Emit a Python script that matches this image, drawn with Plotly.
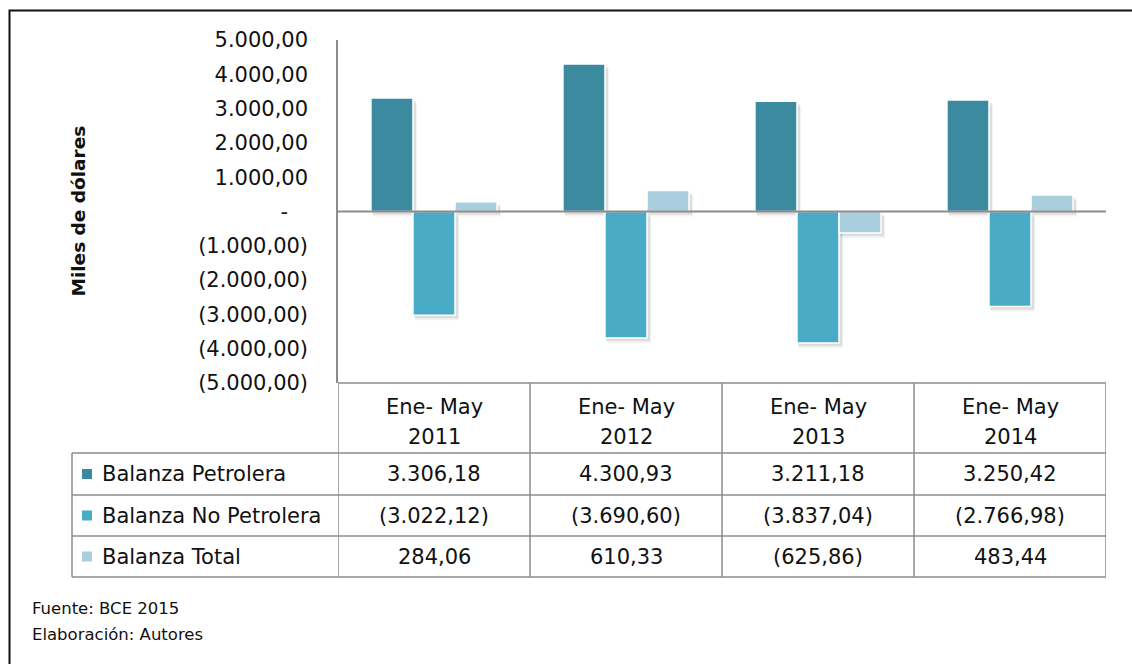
import plotly.graph_objects as go

# Balanza comercial del Ecuador, enero-mayo (miles de dólares)
periodo = "Ene- May"
anios = ["2011", "2012", "2013", "2014"]
series = ["Balanza Petrolera", "Balanza No Petrolera", "Balanza Total"]
petrolera = [3306.18, 4300.93, 3211.18, 3250.42]
no_petrolera = [-3022.12, -3690.60, -3837.04, -2766.98]
total = [284.06, 610.33, -625.86, 483.44]
colores = ["#3C8AA0", "#4AABC6", "#A9CEDD"]
ticks_y = [5000, 4000, 3000, 2000, 1000, 0, -1000, -2000, -3000, -4000, -5000]
fuente = ["Fuente: BCE 2015", "Elaboración: Autores"]

W, H = 1132, 664
FONT = "DejaVu Sans"
GRID = "#8c8c8c"
TXT = "#111111"
FS = 21

# Geometría del área de gráfico (px)
PX_L, PX_R, PX_T, PX_B = 338, 1106, 40, 383
Y_MIN, Y_MAX = -5000, 5000
BAR_W = 0.219          # ancho de cada barra en unidades de categoría
GROUP_W = 3 * BAR_W


def fmt(v):
    """Formato contable: miles con punto, decimales con coma, negativos entre paréntesis."""
    if v == 0:
        return "-\u00a0\u00a0\u00a0"
    s = f"{abs(v):,.2f}".replace(",", "X").replace(".", ",").replace("X", ".")
    return f"({s})" if v < 0 else s


def px_x(p):
    return p / W


def px_y(p):
    return 1 - p / H


x = list(range(len(anios)))
valores = [petrolera, no_petrolera, total]

# Conversión de desplazamientos en px a unidades de datos (para la sombra)
ux = (len(anios)) / (PX_R - PX_L)
uy = (Y_MAX - Y_MIN) / (PX_B - PX_T)

fig = go.Figure()

# Sombras suaves bajo las barras
for dx, dy, alpha in [(3, 5, 0.05), (2, 3, 0.09)]:
    for k, vals in enumerate(valores):
        fig.add_trace(go.Bar(
            x=x, y=vals, base=[-dy * uy] * len(vals),
            width=BAR_W + 2 * ux, offset=-GROUP_W / 2 + k * BAR_W + dx * ux - ux,
            marker=dict(color=f"rgba(0,0,0,{alpha})", line=dict(width=0)),
            showlegend=False, hoverinfo="skip",
        ))

for k, (nombre, vals, col) in enumerate(zip(series, valores, colores)):
    fig.add_trace(go.Bar(
        x=x, y=vals, name=nombre,
        width=BAR_W, offset=-GROUP_W / 2 + k * BAR_W,
        marker=dict(color=col, line=dict(color="white", width=1.5)),
        showlegend=False,
    ))

plot_x0, plot_x1 = px_x(PX_L), px_x(PX_R)
plot_y_top, plot_y_bot = px_y(PX_T), px_y(PX_B)

fig.update_layout(
    width=W, height=H,
    margin=dict(l=0, r=0, t=0, b=0, autoexpand=False),
    paper_bgcolor="white", plot_bgcolor="white",
    barmode="overlay",
    font=dict(family=FONT, color=TXT),
    xaxis=dict(domain=[plot_x0, plot_x1], range=[-0.5, 3.5], automargin=False,
               showticklabels=False, showgrid=False, zeroline=False, showline=False),
    yaxis=dict(domain=[plot_y_bot, plot_y_top], range=[Y_MIN, Y_MAX], automargin=False,
               tickvals=ticks_y, ticktext=[fmt(v) for v in ticks_y],
               tickfont=dict(size=FS, family=FONT, color=TXT),
               ticks="", ticklabelstandoff=24,
               showgrid=False, zeroline=False,
               showline=True, linecolor=GRID, linewidth=1.5),
)

shapes = []
annotations = []

# Línea de cero sobre las barras
shapes.append(dict(type="line", xref="x", yref="y", x0=-0.5, x1=3.5, y0=0, y1=0,
                   line=dict(color=GRID, width=2), layer="above"))

# Marco exterior
shapes.append(dict(type="rect", xref="paper", yref="paper",
                   x0=px_x(9.5), x1=1.05, y0=-0.05, y1=px_y(10.5),
                   line=dict(color=TXT, width=2), fillcolor="rgba(0,0,0,0)"))

# Tabla de datos
tabla_top, header_bot = px_y(383), px_y(453)
filas_bot = [px_y(495), px_y(536), px_y(577)]
tabla_left = px_x(72)
line = dict(color=GRID, width=1.5)

shapes.append(dict(type="line", xref="x", yref="paper", x0=-0.5, x1=3.5,
                   y0=tabla_top, y1=tabla_top, line=line))
for yb in [header_bot] + filas_bot:
    shapes.append(dict(type="line", xref="paper", yref="paper", x0=tabla_left, x1=plot_x1,
                       y0=yb, y1=yb, line=line))
for i in range(len(anios) + 1):
    shapes.append(dict(type="line", xref="x", yref="paper", x0=i - 0.5, x1=i - 0.5,
                       y0=tabla_top, y1=filas_bot[-1], line=line))
shapes.append(dict(type="line", xref="paper", yref="paper", x0=tabla_left, x1=tabla_left,
                   y0=header_bot, y1=filas_bot[-1], line=line))

# Encabezados de periodo (dos líneas)
for i, a in enumerate(anios):
    for txt, ypx in [(periodo, 407), (a, 437)]:
        annotations.append(dict(x=i, y=px_y(ypx), xref="x", yref="paper",
                                text=txt, showarrow=False, font=dict(size=FS),
                                xanchor="center", yanchor="middle"))

# Filas de valores con su clave de color
bordes = [header_bot] + filas_bot
for r, (nombre, vals, col) in enumerate(zip(series, valores, colores)):
    yc = (bordes[r] + bordes[r + 1]) / 2
    shapes.append(dict(type="rect", xref="paper", yref="paper",
                       x0=px_x(82), x1=px_x(92), y0=yc - 5 / H, y1=yc + 5 / H,
                       fillcolor=col, line=dict(width=0)))
    annotations.append(dict(x=px_x(100), y=yc, xref="paper", yref="paper", text=nombre,
                            showarrow=False, font=dict(size=FS),
                            xanchor="left", yanchor="middle"))
    for i, v in enumerate(vals):
        annotations.append(dict(x=i, y=yc, xref="x", yref="paper", text=fmt(v),
                                showarrow=False, font=dict(size=FS),
                                xanchor="center", yanchor="middle"))

# Título del eje Y
annotations.append(dict(x=px_x(78), y=(plot_y_bot + plot_y_top) / 2, xref="paper", yref="paper",
                        text="<b>Miles de dólares</b>", textangle=-90, showarrow=False,
                        font=dict(size=18.5), xanchor="center", yanchor="middle"))

# Fuente y elaboración
for txt, ypx in zip(fuente, [608, 634]):
    annotations.append(dict(x=px_x(30), y=px_y(ypx), xref="paper", yref="paper",
                            text=txt, showarrow=False, font=dict(size=16.5),
                            xanchor="left", yanchor="middle"))

fig.update_layout(shapes=shapes, annotations=annotations)
fig.write_html("out.html")
